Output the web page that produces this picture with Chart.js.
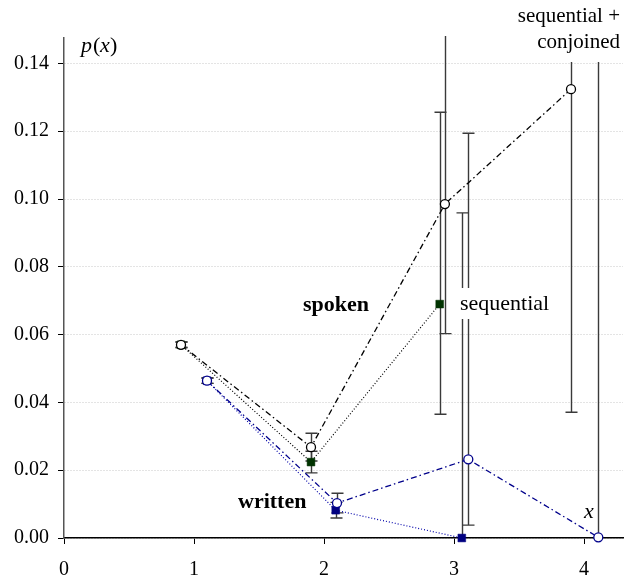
<!DOCTYPE html>
<html>
<head>
<meta charset="utf-8">
<script src="https://cdn.jsdelivr.net/npm/chart.js@4/dist/chart.umd.min.js"></script>
<style>
  html, body { margin: 0; padding: 0; background: #fff; }
  #wrap { width: 630px; height: 577px; }
</style>
</head>
<body>
<div id="wrap"><canvas id="px"></canvas></div>
<script>
// data
const spokenSCx = [0.9, 1.9, 2.93, 3.9];
const spokenSC = [0.057, 0.0268, 0.0985, 0.1324];
const spokenSClo = [0.0562, 0.0227, 0.0603, 0.0371];
const spokenSChi = [0.0578, 0.0309, 0.2, 0.2];

const spokenSx = [0.9, 1.9, 2.89];
const spokenS = [0.057, 0.0224, 0.069];
const spokenSlo = [0.0562, 0.0192, 0.0365];
const spokenShi = [0.0578, 0.0256, 0.1256];

const writtenSCx = [1.1, 2.1, 3.11, 4.11];
const writtenSC = [0.0464, 0.0103, 0.0232, 0.0002];
const writtenSClo = [0.0456, 0.0074, 0.0038, -0.01];
const writtenSChi = [0.0472, 0.0132, 0.1194, 0.2];

const writtenSx = [1.1, 2.09, 3.06];
const writtenS = [0.0464, 0.0082, 0.0];
const writtenSlo = [0.0456, 0.0059, -0.01];
const writtenShi = [0.0472, 0.0105, 0.0959];

const yTicks = [0, 0.02, 0.04, 0.06, 0.08, 0.10, 0.12, 0.14];
const xTicks = [0, 1, 2, 3, 4];

const FONT = '"Liberation Serif", "DejaVu Serif", serif';

function pts(xs, ys) {
  return xs.map((x, i) => ({ x: x, y: ys[i] }));
}

const errBars = [
  { xs: spokenSx, lo: spokenSlo, hi: spokenShi },
  { xs: spokenSCx, lo: spokenSClo, hi: spokenSChi },
  { xs: writtenSx, lo: writtenSlo, hi: writtenShi },
  { xs: writtenSCx, lo: writtenSClo, hi: writtenSChi },
];

// error bars, behind the markers
const errorBarPlugin = {
  id: 'errorBars',
  beforeDatasetsDraw(chart) {
    const { ctx, chartArea, scales } = chart;
    ctx.save();
    ctx.beginPath();
    ctx.rect(chartArea.left, chartArea.top - 2, chartArea.right - chartArea.left, chartArea.bottom - chartArea.top + 2);
    ctx.clip();
    ctx.strokeStyle = '#3a3a3a';
    ctx.lineWidth = 1.4;
    errBars.forEach(e => {
      e.xs.forEach((x, i) => {
        const px = Math.round(scales.x.getPixelForValue(x)) + 0.5;
        const y1 = scales.y.getPixelForValue(e.lo[i]);
        const y2 = scales.y.getPixelForValue(e.hi[i]);
        ctx.beginPath();
        ctx.moveTo(px, y1);
        ctx.lineTo(px, y2);
        ctx.moveTo(px - 6, y1);
        ctx.lineTo(px + 6, y1);
        ctx.moveTo(px - 6, y2);
        ctx.lineTo(px + 6, y2);
        ctx.stroke();
      });
    });
    ctx.restore();
  }
};

// text labels in the plot
const labelPlugin = {
  id: 'labels',
  afterDatasetsDraw(chart) {
    const { ctx } = chart;
    ctx.save();
    ctx.textBaseline = 'alphabetic';

    // sequential + conjoined, top right, white box
    ctx.font = '21px ' + FONT;
    ctx.fillStyle = '#fff';
    ctx.fillRect(500, 2, 128, 60);
    ctx.fillStyle = '#000';
    ctx.textAlign = 'right';
    ctx.fillText('sequential +', 620, 22);
    ctx.fillText('conjoined', 620, 48);

    // sequential, white box
    ctx.font = '22px ' + FONT;
    ctx.textAlign = 'left';
    ctx.fillStyle = '#fff';
    ctx.fillRect(456, 288, 100, 31);
    ctx.fillStyle = '#000';
    ctx.fillText('sequential', 460, 310);

    ctx.font = 'bold 22px ' + FONT;
    ctx.fillText('spoken', 303, 311);
    ctx.fillText('written', 238, 508);

    ctx.font = 'italic 22px ' + FONT;
    ctx.fillText('x', 584, 518);
    ctx.fillText('p', 81, 52);
    ctx.font = '22px ' + FONT;
    ctx.fillText('(', 93, 52);
    ctx.font = 'italic 22px ' + FONT;
    ctx.fillText('x', 100, 52);
    ctx.font = '22px ' + FONT;
    ctx.fillText(')', 110, 52);
    ctx.restore();
  }
};

const ctx = document.getElementById('px').getContext('2d');

new Chart(ctx, {
  type: 'scatter',
  data: {
    datasets: [
      {
        label: 'spoken sequential + conjoined',
        data: pts(spokenSCx, spokenSC),
        showLine: true,
        borderColor: '#000',
        borderWidth: 1.3,
        borderDash: [6, 3, 1.5, 3],
        pointStyle: 'circle',
        pointRadius: 4.5,
        pointBackgroundColor: '#fff',
        pointBorderColor: '#000',
        pointBorderWidth: 1.3,
        order: 1,
      },
      {
        label: 'written sequential + conjoined',
        data: pts(writtenSCx, writtenSC),
        showLine: true,
        borderColor: '#00008b',
        borderWidth: 1.3,
        borderDash: [6, 3, 1.5, 3],
        pointStyle: 'circle',
        pointRadius: 4.5,
        pointBackgroundColor: '#fff',
        pointBorderColor: '#00008b',
        pointBorderWidth: 1.3,
        order: 2,
      },
      {
        label: 'spoken sequential',
        data: pts(spokenSx, spokenS),
        showLine: true,
        borderColor: '#000',
        borderWidth: 1.2,
        borderDash: [1, 2],
        pointStyle: 'rect',
        pointRadius: 5.5,
        pointBackgroundColor: '#003300',
        pointBorderColor: '#003300',
        pointBorderWidth: 0.5,
        order: 3,
      },
      {
        label: 'written sequential',
        data: pts(writtenSx, writtenS),
        showLine: true,
        borderColor: '#0000aa',
        borderWidth: 1.2,
        borderDash: [1, 2],
        pointStyle: 'rect',
        pointRadius: 5.5,
        pointBackgroundColor: '#000080',
        pointBorderColor: '#000080',
        pointBorderWidth: 0.5,
        order: 4,
      },
    ]
  },
  options: {
    responsive: true,
    maintainAspectRatio: false,
    animation: false,
    clip: false,
    layout: { padding: { top: 38, right: 7, left: 0, bottom: 0 } },
    plugins: {
      legend: { display: false },
      tooltip: { enabled: false },
    },
    scales: {
      x: {
        type: 'linear',
        min: 0,
        max: 4.3,
        afterBuildTicks: s => { s.ticks = xTicks.map(v => ({ value: v })); },
        ticks: {
          font: { family: FONT, size: 20 },
          color: '#000',
          padding: 14,
          callback: v => String(v),
        },
        grid: { drawOnChartArea: false, drawTicks: true, tickLength: 6, tickColor: '#000', tickWidth: 1 },
        border: { display: true, color: '#000', width: 1.5 },
        afterFit: s => { s.height = 39; },
      },
      y: {
        type: 'linear',
        min: 0,
        max: 0.1475,
        afterBuildTicks: s => { s.ticks = yTicks.map(v => ({ value: v })); },
        ticks: {
          font: { family: FONT, size: 20 },
          color: '#000',
          padding: 9,
          callback: v => v.toFixed(2),
        },
        grid: { color: '#c8c8c8', lineWidth: 1, drawTicks: true, tickLength: 6, tickColor: '#000', tickWidth: 1 },
        border: { display: true, color: '#555', width: 1.5, dash: [1, 2] },
        afterFit: s => { s.width = 64; },
      }
    }
  },
  plugins: [errorBarPlugin, labelPlugin]
});
</script>
</body>
</html>
